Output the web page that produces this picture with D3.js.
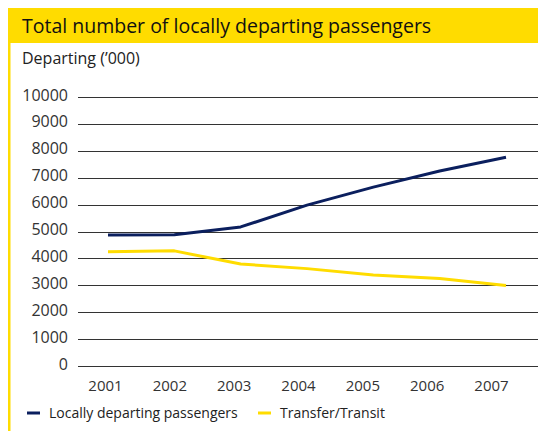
<!DOCTYPE html>
<html><head><meta charset="utf-8">
<script src="https://cdn.jsdelivr.net/npm/d3@7/dist/d3.min.js"></script>
<style>body{margin:0;background:#fff}svg{display:block}</style>
</head><body><svg id="c" width="538" height="431"></svg>
<script>
const years = ["2001","2002","2003","2004","2005","2006","2007"];
const local = [4870, 4880, 5170, 5980, 6650, 7250, 7760];
const transfer = [4250, 4280, 3790, 3620, 3380, 3250, 2990];
const yTicks = [0,1000,2000,3000,4000,5000,6000,7000,8000,9000,10000];
const seriesNames = ["Locally departing passengers","Transfer/Transit"];
const colors = ["#0b1f5e","#ffdc00"];
const font = "'Open Sans', sans-serif";

const svg = d3.select("#c");
// frame
svg.append("rect").attr("x",8).attr("y",8).attr("width",530).attr("height",35).attr("fill","#ffdc00");
svg.append("rect").attr("x",8).attr("y",8).attr("width",2.5).attr("height",423).attr("fill","#ffdc00");
svg.append("text").attr("x",22).attr("y",33).attr("font-family",font).attr("font-size",19.5)
  .attr("fill","#111").text("Total number of locally departing passengers");
svg.append("text").attr("x",22).attr("y",64).attr("font-family",font).attr("font-size",16)
  .attr("fill","#222").text("Departing (\u2019000)");

const y = d3.scaleLinear().domain([0,10000]).range([366,97]);
const xLine = d3.scalePoint().domain(years).range([108,506]);
const xLab = d3.scalePoint().domain(years).range([105,491]);

const grid = svg.append("g");
grid.selectAll("line").data(yTicks).join("line")
  .attr("x1",78).attr("x2",538)
  .attr("y1",d=>Math.round(y(d))+0.5).attr("y2",d=>Math.round(y(d))+0.5)
  .attr("stroke","#333").attr("stroke-width",1.2);
grid.selectAll("text").data(yTicks).join("text")
  .attr("x",68).attr("y",d=>y(d)+3.5).attr("text-anchor","end")
  .attr("font-family",font).attr("font-size",16).attr("fill","#333").text(d=>d);

const xa = svg.append("g").attr("transform","translate(0,366)")
  .call(d3.axisBottom(xLab).tickSize(0).tickPadding(14));
xa.select(".domain").remove();
xa.selectAll("text").attr("font-family",font).attr("font-size",15).attr("fill","#333");

const line = d3.line().x((d,i)=>xLine(years[i])).y(d=>y(d));
[local, transfer].forEach((s,k)=>{
  svg.append("path").attr("d",line(s)).attr("fill","none")
    .attr("stroke",colors[k]).attr("stroke-width",3).attr("stroke-linejoin","round");
});

const legX = [27, 258];
seriesNames.forEach((n,k)=>{
  svg.append("line").attr("x1",legX[k]).attr("x2",legX[k]+13).attr("y1",413).attr("y2",413)
    .attr("stroke",colors[k]).attr("stroke-width",3);
  svg.append("text").attr("x",legX[k]+22).attr("y",418).attr("font-family",font).attr("font-size",14)
    .attr("fill","#222").text(n);
});
</script></body></html>
